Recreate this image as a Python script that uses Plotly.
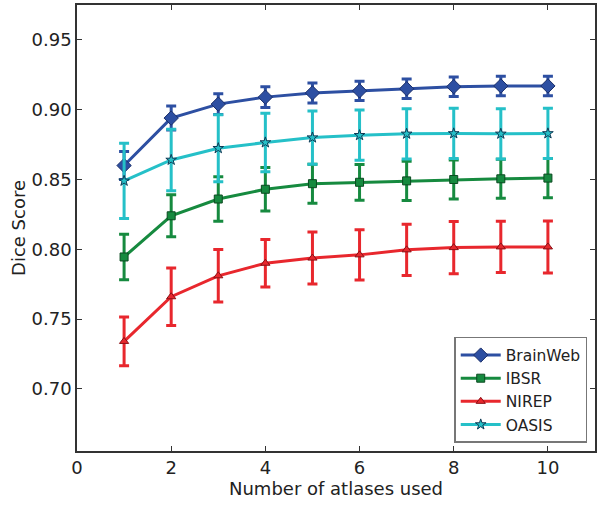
import plotly.graph_objects as go

atlases = [1, 2, 3, 4, 5, 6, 7, 8, 9, 10]

brainweb = [0.860, 0.894, 0.904, 0.909, 0.912, 0.9135, 0.915, 0.9165, 0.917, 0.917]
brainweb_err = [0.010, 0.0086, 0.0075, 0.0074, 0.0072, 0.0069, 0.007, 0.007, 0.007, 0.007]

ibsr = [0.7945, 0.824, 0.836, 0.843, 0.847, 0.848, 0.849, 0.850, 0.8505, 0.851]
ibsr_err = [0.0163, 0.015, 0.016, 0.0156, 0.014, 0.0128, 0.014, 0.014, 0.014, 0.014]

nirep = [0.734, 0.766, 0.781, 0.790, 0.7937, 0.796, 0.7996, 0.8012, 0.8017, 0.8017]
nirep_err = [0.0175, 0.0206, 0.0188, 0.017, 0.0186, 0.018, 0.0183, 0.0187, 0.0184, 0.0186]

oasis = [0.849, 0.864, 0.8724, 0.8765, 0.880, 0.8817, 0.8827, 0.883, 0.8827, 0.883]
oasis_err = [0.027, 0.022, 0.024, 0.021, 0.019, 0.018, 0.018, 0.018, 0.018, 0.018]

series = [
    ("BrainWeb", brainweb, brainweb_err, "#2d4fa2", "#1b2f6a", "diamond", 11),
    ("IBSR", ibsr, ibsr_err, "#168a3f", "#0b4a20", "square", 8),
    ("NIREP", nirep, nirep_err, "#e8272d", "#8a1015", "triangle-up", 8),
    ("OASIS", oasis, oasis_err, "#25c0c8", "#0f3a55", "star", 8),
]

fig = go.Figure()
for name, vals, errs, color, edge, sym, size in series:
    fig.add_trace(go.Scatter(
        x=atlases, y=vals, name=name, mode="lines+markers",
        line=dict(color=color, width=3),
        marker=dict(symbol=sym, size=size, color=color, line=dict(color=edge, width=1)),
        error_y=dict(type="data", array=errs, visible=True, color=color, thickness=3, width=5),
    ))

axis_common = dict(
    showline=True, linecolor="#333333", linewidth=1.5, mirror="allticks",
    ticks="inside", ticklen=5, tickcolor="#333333", showgrid=False, zeroline=False,
    tickfont=dict(family="DejaVu Sans", size=18, color="#222222"),
    automargin=False,
)

fig.update_layout(
    width=600, height=505,
    margin=dict(l=77, r=5, t=5, b=54, autoexpand=False),
    paper_bgcolor="white", plot_bgcolor="white",
    font=dict(family="DejaVu Sans", color="#222222"),
    xaxis=dict(range=[0, 11], tickvals=[0, 2, 4, 6, 8, 10],
               title=dict(text="Number of atlases used", font=dict(size=18), standoff=4),
               **axis_common),
    yaxis=dict(range=[0.6555, 0.975], tickvals=[0.70, 0.75, 0.80, 0.85, 0.90, 0.95],
               tickformat=".2f",
               title=dict(text="Dice Score", font=dict(size=18), standoff=1),
               **axis_common),
    legend=dict(x=0.985, y=0.018, xanchor="right", yanchor="bottom",
                bgcolor="white", bordercolor="#777777", borderwidth=1.5,
                font=dict(size=15.5, color="#222222"), tracegroupgap=0,
                itemwidth=40),
    showlegend=True,
)

fig.write_html("out.html",
               config={"displayModeBar": False},
               post_script="document.body.style.margin='0';document.body.style.overflow='hidden';")
